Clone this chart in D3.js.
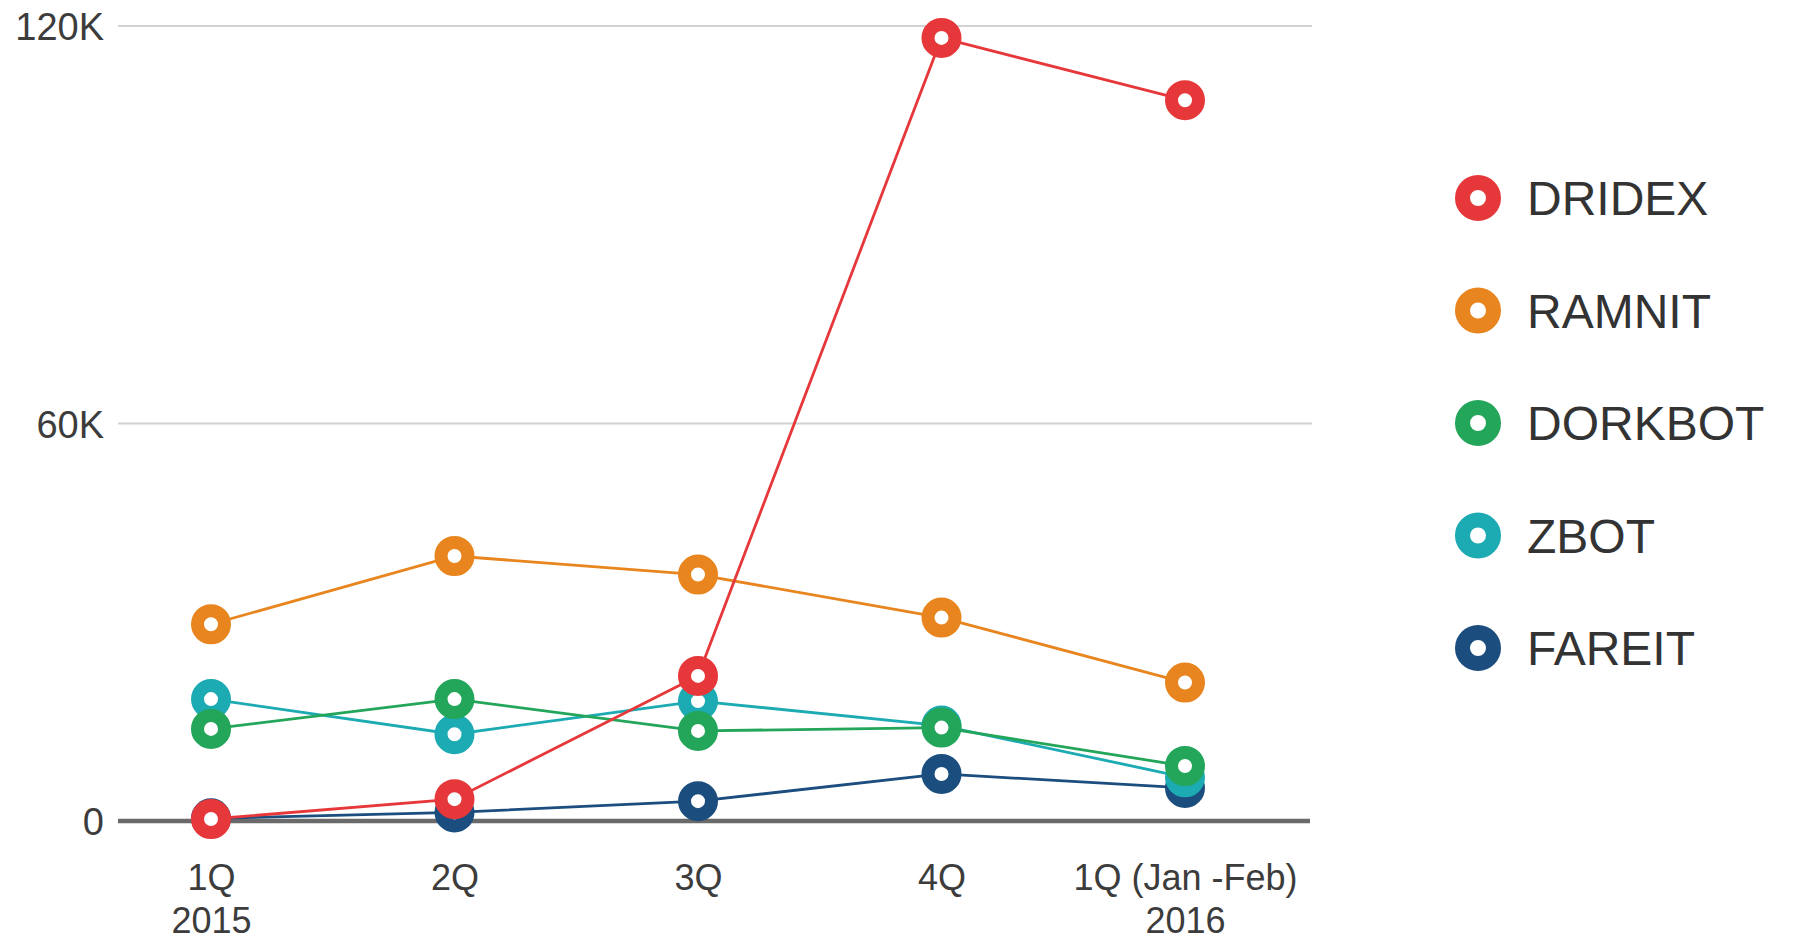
<!DOCTYPE html>
<html>
<head>
<meta charset="utf-8">
<script src="https://cdnjs.cloudflare.com/ajax/libs/d3/7.8.5/d3.min.js"></script>
<style>
  html, body { margin: 0; padding: 0; background: #fff; }
  svg { display: block; }
  text { font-family: "Liberation Sans", Arial, Helvetica, sans-serif; }
</style>
</head>
<body>
<svg id="chart" width="1794" height="952"></svg>
<script>
// Quarterly detections per malware family
const quarters = ["1Q|2015", "2Q", "3Q", "4Q", "1Q (Jan -Feb)|2016"];
const families = ["DRIDEX", "RAMNIT", "DORKBOT", "ZBOT", "FAREIT"];
const colors = ["#e6383a", "#e8851e", "#23a55a", "#1caab3", "#1b4d7e"];
const dridex = [300, 3300, 21900, 118200, 108800];
const ramnit = [29700, 40000, 37200, 30700, 20900];
const dorkbot = [13900, 18400, 13600, 14100, 8300];
const zbot = [18400, 13100, 18100, 14400, 6600];
const fareit = [400, 1300, 3000, 7100, 5000];
const yTicks = [0, 60000, 120000];
const yTickLabels = ["0", "60K", "120K"];

const seriesValues = [dridex, ramnit, dorkbot, zbot, fareit];
const series = families.map((name, i) => ({ name, color: colors[i], values: seriesValues[i] }));

const svg = d3.select("#chart");

const plot = { left: 118, right: 1312, top: 26, bottom: 821 };

const x = d3.scalePoint().domain(quarters).range([211, 1185]);
const y = d3.scaleLinear().domain([0, 120000]).range([plot.bottom, plot.top]);

// Horizontal gridlines
svg.append("g")
  .selectAll("line")
  .data(yTicks.filter(d => d > 0))
  .join("line")
  .attr("x1", plot.left)
  .attr("x2", plot.right)
  .attr("y1", d => y(d))
  .attr("y2", d => y(d))
  .attr("stroke", "#d2d2d2")
  .attr("stroke-width", 2);

// Y axis labels
const yAxis = d3.axisLeft(y)
  .tickValues(yTicks)
  .tickSize(0)
  .tickPadding(0)
  .tickFormat((d, i) => yTickLabels[i]);

const yG = svg.append("g")
  .attr("transform", `translate(${plot.left - 14},0)`)
  .call(yAxis);
yG.select(".domain").remove();
yG.selectAll("text")
  .attr("font-size", 38)
  .attr("fill", "#3c3c3c")
  .attr("dy", "0.36em")
  .style("font-family", "'Liberation Sans', Arial, sans-serif");

// X axis labels (two-line)
const xAxis = d3.axisBottom(x).tickSize(0).tickFormat(() => "");
const xG = svg.append("g")
  .attr("transform", `translate(0,${plot.bottom})`)
  .call(xAxis);
xG.select(".domain").remove();
xG.selectAll(".tick").each(function(d) {
  const lines = d.split("|");
  const t = d3.select(this).append("text")
    .attr("text-anchor", "middle")
    .attr("font-size", 36)
    .attr("fill", "#3c3c3c");
  lines.forEach((ln, i) => {
    t.append("tspan")
      .attr("x", 0)
      .attr("y", 69 + i * 43)
      .text(ln);
  });
});

// Baseline
svg.append("line")
  .attr("x1", plot.left)
  .attr("x2", 1310)
  .attr("y1", y(0))
  .attr("y2", y(0))
  .attr("stroke", "#6a6a6a")
  .attr("stroke-width", 4.5);

// Series lines and ring markers, drawn back to front
const line = d3.line()
  .x((d, i) => x(quarters[i]))
  .y(d => y(d));

const drawOrder = series.slice().reverse();
drawOrder.forEach(s => {
  const g = svg.append("g");
  g.append("path")
    .datum(s.values)
    .attr("d", line)
    .attr("fill", "none")
    .attr("stroke", s.color)
    .attr("stroke-width", 2.8);
  g.selectAll("circle")
    .data(s.values)
    .join("circle")
    .attr("cx", (d, i) => x(quarters[i]))
    .attr("cy", d => y(d))
    .attr("r", 13.5)
    .attr("fill", "#fff")
    .attr("stroke", s.color)
    .attr("stroke-width", 13);
});

// Legend
const legend = svg.append("g").attr("transform", "translate(1478,198)");
const rows = legend.selectAll("g")
  .data(series)
  .join("g")
  .attr("transform", (d, i) => `translate(0,${i * 112.5})`);
rows.append("circle")
  .attr("r", 15.5)
  .attr("fill", "#fff")
  .attr("stroke", d => d.color)
  .attr("stroke-width", 15);
rows.append("text")
  .attr("x", 49)
  .attr("y", 0)
  .attr("dy", "0.36em")
  .attr("font-size", 48)
  .attr("fill", "#333")
  .text(d => d.name);
</script>
</body>
</html>
